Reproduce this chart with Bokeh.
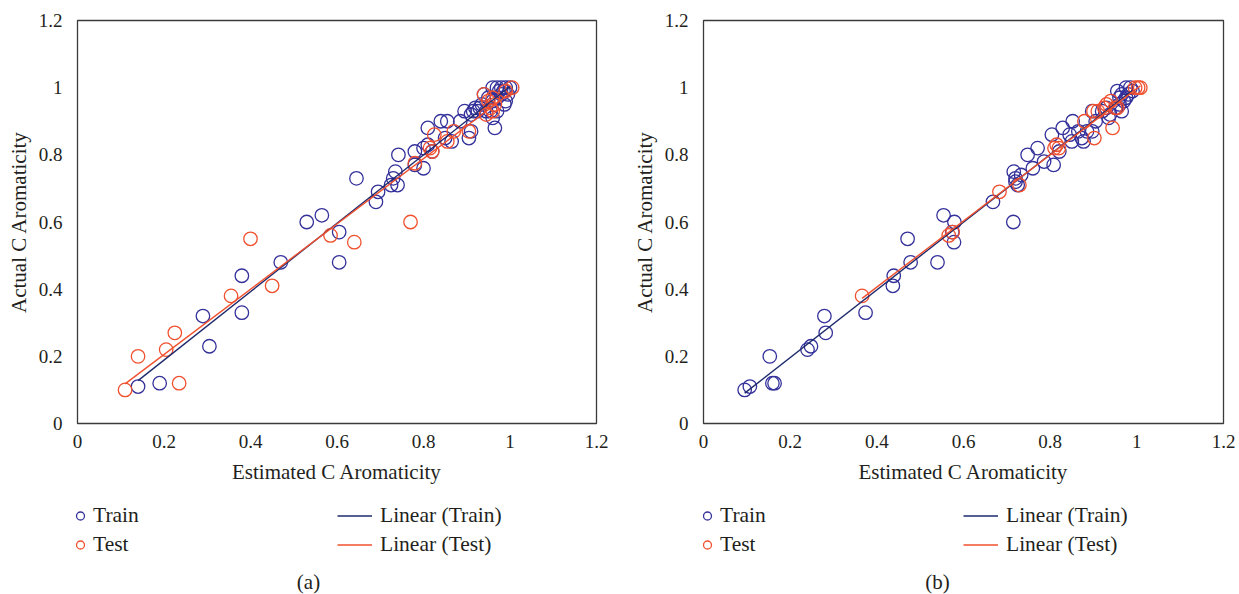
import numpy as np
from bokeh.plotting import figure
from bokeh.layouts import row, column
from bokeh.models import Legend, LegendItem, Label, FixedTicker, Range1d
from bokeh.embed import file_html
from bokeh.resources import INLINE

# ---------------- data ----------------
ticks = [0.0, 0.2, 0.4, 0.6, 0.8, 1.0, 1.2]
tick_labels = ["0", "0.2", "0.4", "0.6", "0.8", "1", "1.2"]
x_title = "Estimated C Aromaticity"
y_title = "Actual C Aromaticity"
captions = ["(a)", "(b)"]
series_names = ["Train", "Test", "Linear (Train)", "Linear (Test)"]

train_a_x = [0.14, 0.19, 0.305, 0.29, 0.38, 0.38, 0.47, 0.53, 0.565, 0.605, 0.605, 0.645,
             0.69, 0.695, 0.725, 0.73, 0.735, 0.74, 0.742, 0.78, 0.78, 0.80, 0.80, 0.81,
             0.81, 0.82, 0.84, 0.855, 0.85, 0.865, 0.885, 0.895, 0.905, 0.91, 0.91, 0.92,
             0.93, 0.925, 0.94, 0.945, 0.955, 0.965, 0.97, 0.96, 0.96, 0.97, 0.98, 0.99,
             1.0, 0.975, 0.985, 0.987, 0.99, 0.96, 0.95, 0.97, 0.98, 0.995, 0.915, 0.935]
train_a_y = [0.11, 0.12, 0.23, 0.32, 0.33, 0.44, 0.48, 0.60, 0.62, 0.57, 0.48, 0.73,
             0.66, 0.69, 0.71, 0.73, 0.75, 0.71, 0.80, 0.81, 0.77, 0.76, 0.82, 0.83,
             0.88, 0.81, 0.90, 0.90, 0.85, 0.84, 0.90, 0.93, 0.85, 0.87, 0.92, 0.94,
             0.94, 0.93, 0.98, 0.93, 0.93, 0.88, 0.93, 0.91, 1.0, 1.0, 1.0, 1.0,
             1.0, 0.99, 0.99, 0.95, 0.96, 0.96, 0.97, 0.97, 0.98, 0.98, 0.93, 0.95]
test_a_x = [0.11, 0.14, 0.205, 0.225, 0.235, 0.355, 0.40, 0.45, 0.585, 0.64, 0.77, 0.78,
            0.815, 0.825, 0.82, 0.855, 0.87, 0.905, 0.94, 0.95, 0.955, 0.96, 0.965, 0.99,
            1.005, 0.945, 0.96]
test_a_y = [0.10, 0.20, 0.22, 0.27, 0.12, 0.38, 0.55, 0.41, 0.56, 0.54, 0.60, 0.775,
            0.82, 0.86, 0.81, 0.84, 0.87, 0.87, 0.98, 0.96, 0.94, 0.93, 0.95, 0.99,
            1.0, 0.92, 0.97]

train_b_x = [0.095, 0.107, 0.153, 0.159, 0.164, 0.24, 0.248, 0.279, 0.282, 0.374, 0.437, 0.439,
             0.471, 0.478, 0.54, 0.554, 0.579, 0.578, 0.574, 0.668, 0.715, 0.716, 0.72, 0.725,
             0.733, 0.72, 0.748, 0.76, 0.771, 0.786, 0.804, 0.808, 0.821, 0.829, 0.845, 0.85,
             0.852, 0.865, 0.873, 0.877, 0.885, 0.897, 0.897, 0.905, 0.92, 0.93, 0.938, 0.935,
             0.952, 0.96, 0.965, 0.97, 0.975, 0.955, 0.965, 0.975, 0.985, 0.98, 0.96, 0.99]
train_b_y = [0.10, 0.11, 0.20, 0.12, 0.12, 0.22, 0.23, 0.32, 0.27, 0.33, 0.41, 0.44,
             0.55, 0.48, 0.48, 0.62, 0.60, 0.54, 0.57, 0.66, 0.60, 0.75, 0.73, 0.71,
             0.74, 0.72, 0.80, 0.76, 0.82, 0.78, 0.86, 0.77, 0.81, 0.88, 0.86, 0.84,
             0.90, 0.87, 0.85, 0.84, 0.87, 0.87, 0.93, 0.90, 0.93, 0.94, 0.92, 0.91,
             0.94, 0.95, 0.93, 0.96, 0.97, 0.99, 0.98, 1.0, 1.0, 0.98, 0.97, 0.99]
test_b_x = [0.366, 0.566, 0.575, 0.683, 0.729, 0.81, 0.815, 0.82, 0.879, 0.902, 0.90,
            0.91, 0.925, 0.94, 0.944, 0.95, 0.955, 0.996, 1.003, 1.008, 0.93]
test_b_y = [0.38, 0.56, 0.57, 0.69, 0.71, 0.82, 0.83, 0.82, 0.90, 0.85, 0.93,
            0.93, 0.94, 0.96, 0.88, 0.94, 0.94, 1.0, 1.0, 1.0, 0.95]

# ---------------- style ----------------
TRAIN_C = "#34319A"
TRAIN_LINE = "#1E2A6C"
TEST_C = "#F0502E"
TEST_LINE = "#F0502E"
FONT = "Liberation Serif"
TXT = "#231F20"
MAIN_H = 491
LEG_H = 594 - MAIN_H

marker_style = dict(marker="circle", size=13.5, fill_color=None, line_width=1.3)


def fit_line(xs, ys):
    xs = np.asarray(xs); ys = np.asarray(ys)
    m, b = np.polyfit(xs, ys, 1)
    lx = np.array([xs.min(), xs.max()])
    return lx, m * lx + b


def panel(trx, tr_y, tex, te_y, width, left, right):
    p = figure(width=width, height=MAIN_H, x_range=Range1d(0, 1.2), y_range=Range1d(0, 1.2),
               output_backend="svg", toolbar_location=None,
               min_border_left=left, min_border_right=right,
               min_border_top=20, min_border_bottom=68)
    p.grid.visible = False
    p.outline_line_color = "#3A3A3A"
    p.outline_line_width = 1.3
    p.background_fill_color = "white"
    p.border_fill_color = "white"
    for ax in (p.xaxis[0], p.yaxis[0]):
        ax.ticker = FixedTicker(ticks=ticks)
        ax.major_label_overrides = dict(zip(ticks, tick_labels))
        ax.axis_line_color = None
        ax.major_tick_line_color = None
        ax.minor_tick_line_color = None
        ax.major_label_text_font = FONT
        ax.major_label_text_font_size = "19px"
        ax.major_label_text_color = TXT
        ax.axis_label_text_font = FONT
        ax.axis_label_text_font_size = "21px"
        ax.axis_label_text_font_style = "normal"
        ax.axis_label_text_color = TXT
    p.xaxis.axis_label = x_title
    p.yaxis.axis_label = y_title
    p.xaxis.major_label_standoff = 5
    p.xaxis.axis_label_standoff = 9
    p.yaxis.major_label_standoff = 9
    p.yaxis.axis_label_standoff = 5

    p.scatter(trx, tr_y, line_color=TRAIN_C, **marker_style)
    p.scatter(tex, te_y, line_color=TEST_C, **marker_style)
    lx, ly = fit_line(trx, tr_y)
    p.line(lx, ly, line_color=TRAIN_LINE, line_width=1.4)
    lx2, ly2 = fit_line(tex, te_y)
    p.line(lx2, ly2, line_color=TEST_LINE, line_width=1.4)
    return p


def legend_panel(width, x_markers, x_lines, x_caption, caption):
    q = figure(width=width, height=LEG_H, x_range=Range1d(0, width), y_range=Range1d(0, LEG_H),
               output_backend="svg", toolbar_location=None,
               x_axis_type=None, y_axis_type=None,
               min_border_left=0, min_border_right=0, min_border_top=0, min_border_bottom=0)
    q.grid.visible = False
    q.outline_line_color = None
    q.background_fill_color = "white"
    q.border_fill_color = "white"
    nan = [np.nan]
    # legend-only renderers (no visible points)
    r_tr = q.scatter(nan, nan, line_color=TRAIN_C, **marker_style)
    r_te = q.scatter(nan, nan, line_color=TEST_C, **marker_style)
    r_ltr = q.line(nan, nan, line_color=TRAIN_LINE, line_width=1.4)
    r_lte = q.line(nan, nan, line_color=TEST_LINE, line_width=1.4)
    common = dict(border_line_color=None, background_fill_alpha=0, padding=0, margin=0,
                  spacing=4, glyph_height=25, label_height=25,
                  label_text_font=FONT, label_text_font_size="21.5px", label_text_color=TXT)
    leg1 = Legend(items=[LegendItem(label=series_names[0], renderers=[r_tr]),
                         LegendItem(label=series_names[1], renderers=[r_te])],
                  location=(x_markers, 37), glyph_width=20, label_standoff=3, **common)
    leg2 = Legend(items=[LegendItem(label=series_names[2], renderers=[r_ltr]),
                         LegendItem(label=series_names[3], renderers=[r_lte])],
                  location=(x_lines, 37), glyph_width=35, label_standoff=8, **common)
    q.add_layout(leg1)
    q.add_layout(leg2)
    cap = Label(x=x_caption, y=13, text=caption, text_align="center", text_baseline="middle",
                text_font=FONT, text_font_size="21px", text_color=TXT)
    q.add_layout(cap)
    return q


pa = panel(train_a_x, train_a_y, test_a_x, test_a_y, 620, 77, 24)
pb = panel(train_b_x, train_b_y, test_b_x, test_b_y, 619, 83, 16)
la = legend_panel(620, 70, 337, 308, captions[0])
lb = legend_panel(619, 77, 343, 317, captions[1])

layout = column(row(pa, pb), row(la, lb))
open("out.html", "w").write(file_html(layout, INLINE))
